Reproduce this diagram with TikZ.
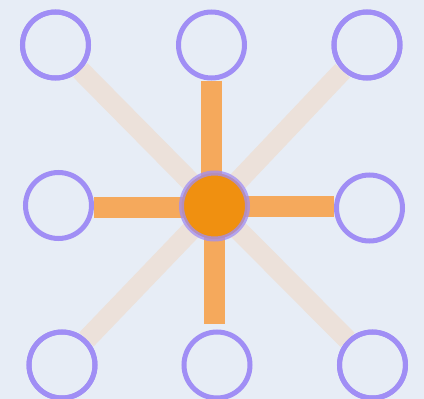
\documentclass[tikz,border=0pt]{standalone}
\definecolor{bgc}{RGB}{231,237,246}
\definecolor{ringc}{RGB}{160,142,245}
\definecolor{barc}{RGB}{245,169,92}
\definecolor{diagc}{RGB}{236,225,218}
\definecolor{hubc}{RGB}{240,144,16}
\begin{document}
\begin{tikzpicture}[x=1pt,y=-1pt,
  ring/.style={circle,draw=ringc,line width=5pt,minimum size=66pt,inner sep=0pt},
  hub/.style={circle,draw=ringc,draw opacity=0.75,fill=hubc,line width=5pt,minimum size=66pt,inner sep=0pt},
  bar/.style={draw=barc,line width=21pt,line cap=butt},
  diag/.style={draw=diagc,line width=20pt,line cap=butt}]
\fill[bgc] (0,0) rectangle (424,399);
\useasboundingbox (0,0) rectangle (424,399);
\node[ring] (tl) at (55.5,45) {};
\node[ring] (tm) at (211.5,45) {};
\node[ring] (tr) at (367,45) {};
\node[ring] (ml) at (58.5,205.5) {};
\node[ring] (mr) at (369.5,208) {};
\node[ring] (bl) at (62,365) {};
\node[ring] (bm) at (217,365) {};
\node[ring] (br) at (372.5,365) {};
\coordinate (c) at (214.5,206);
\coordinate (bmend) at (214.5,324);
\draw[diag] (c) -- (tl);
\draw[diag] (c) -- (tr);
\draw[diag] (c) -- (bl);
\draw[diag] (c) -- (br);
\draw[bar] (tm.south) -- (tm.south |- c);
\draw[bar] ([yshift=-1.5pt]ml.east) -- ([yshift=-1.5pt]ml.east -| c);
\draw[bar] ([yshift=1.5pt]mr.west) -- ([yshift=1.5pt]mr.west -| c);
\draw[bar] (c) -- (bmend);
\node[ring] at (tl) {};
\node[ring] at (tr) {};
\node[ring] at (bl) {};
\node[ring] at (br) {};
\node[hub] (hub) at (c) {};
\end{tikzpicture}
\end{document}
